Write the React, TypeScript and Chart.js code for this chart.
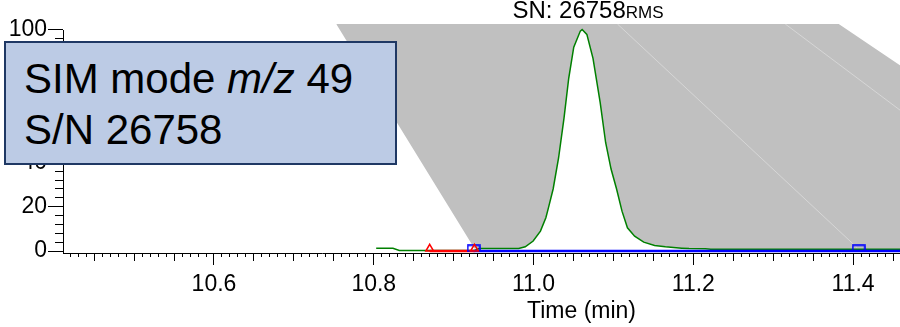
import React, { useEffect, useRef } from "react";
import { Chart, registerables } from "chart.js";

Chart.register(...registerables);

// ---------- axis ranges / ticks ----------
const xRange = [10.411, 11.709];
const yRange = [-0.9, 102.5];
const xMajorStep = 0.2;
const xMidStep = 0.05;
const xMinorStep = 0.01;
const yMajorStep = 20;
const yMinorStep = 4;

// ---------- chromatogram trace (green) ----------
const traceTime = [
  10.803, 10.824, 10.832, 10.926, 10.932, 10.9814, 10.9896, 10.9995, 11.0086, 11.0154,
  11.0186, 11.0245, 11.0313, 11.0381, 11.044, 11.0503, 11.0585, 11.0608, 11.0667, 11.0744,
  11.0834, 11.0902, 11.097, 11.1039, 11.1107, 11.1175, 11.1265, 11.1379, 11.1515, 11.165,
  11.1855, 11.1946, 11.215, 11.2218, 11.8,
];
const traceIntensity = [
  1.2, 1.2, 0.2, 0.2, 1.1, 1.1, 1.9, 4.5, 9, 15,
  19.5, 28, 42, 60, 78, 92, 99.3, 100, 97.8, 87,
  67, 49, 37, 28, 18, 10.5, 6.7, 4.0, 2.5, 1.9,
  1.3, 1.1, 1.0, 0.8, 0.8,
];

// ---------- baselines ----------
const redBaseTime = [10.87, 10.926];
const redBaseLevel = [0, 0];
const blueBaseTime = [10.925, 11.8];
const blueBaseLevel = [0, 0];

// ---------- peak markers ----------
const redMarkTime = [10.87, 10.926];
const redMarkLevel = [1.0, 1.0];
const blueMarkTime = [10.925, 11.407];
const blueMarkLevel = [1.2, 1.2];

// ---------- grey shaded band ----------
const bandLeftTime = [10.753, 10.926];
const bandLeftLevel = [102.5, 1.1];
const bandRightTime = [11.382, 11.8];
const bandRightLevel = [102.5, 0.8];
const seam1Time = [11.105, 11.405];
const seam1Level = [102.5, 1.5];
const seam2Time = [11.315, 11.69];
const seam2Level = [102.5, 1.0];

const FONT = "'Liberation Sans', Arial, Helvetica, sans-serif";

const pts = (xs: number[], ys: number[]) => xs.map((x, i) => ({ x, y: ys[i] }));

export default function App() {
  const canvasRef = useRef<HTMLCanvasElement | null>(null);

  useEffect(() => {
    const canvas = canvasRef.current;
    if (!canvas) return;

    const rectMarker = document.createElement("canvas");
    rectMarker.width = 14;
    rectMarker.height = 8;
    const mctx = rectMarker.getContext("2d");
    if (mctx) {
      mctx.strokeStyle = "#0000ff";
      mctx.lineWidth = 1.6;
      mctx.strokeRect(1, 1, 12, 6);
    }

    const trace = pts(traceTime, traceIntensity);
    const bandLower = [
      ...pts(bandLeftTime, bandLeftLevel),
      ...trace.filter((p) => p.x > bandLeftTime[1]),
    ];
    const bandUpper = [
      { x: bandLeftTime[0], y: bandLeftLevel[0] },
      ...pts(bandRightTime, bandRightLevel),
    ];

    Chart.defaults.font.family = FONT;
    Chart.defaults.color = "#000";

    const xCommon = { type: "linear" as const, min: xRange[0], max: xRange[1] };
    const yCommon = { type: "linear" as const, min: yRange[0], max: yRange[1] };

    const chart = new Chart(canvas, {
      type: "line",
      data: {
        datasets: [
          {
            label: "band",
            data: bandUpper,
            fill: "+1",
            backgroundColor: "#c0c0c0",
            borderColor: "rgba(0,0,0,0)",
            borderWidth: 0,
            pointRadius: 0,
            order: 10,
          },
          {
            label: "bandLower",
            data: bandLower,
            fill: false,
            borderColor: "rgba(0,0,0,0)",
            borderWidth: 0,
            pointRadius: 0,
            order: 9,
          },
          {
            label: "seam1",
            data: pts(seam1Time, seam1Level),
            borderColor: "#d6d6d6",
            borderWidth: 1,
            pointRadius: 0,
            fill: false,
            order: 8,
          },
          {
            label: "seam2",
            data: pts(seam2Time, seam2Level),
            borderColor: "#d6d6d6",
            borderWidth: 1,
            pointRadius: 0,
            fill: false,
            order: 8,
          },
          {
            label: "trace",
            data: trace,
            borderColor: "#008000",
            borderWidth: 1.5,
            pointRadius: 0,
            fill: false,
            order: 5,
          },
          {
            label: "blueBase",
            data: pts(blueBaseTime, blueBaseLevel),
            borderColor: "#0000ff",
            borderWidth: 2.5,
            pointRadius: 0,
            fill: false,
            order: 4,
          },
          {
            label: "redBase",
            data: pts(redBaseTime, redBaseLevel),
            borderColor: "#ff0000",
            borderWidth: 2.5,
            pointRadius: 0,
            fill: false,
            order: 3,
          },
          {
            label: "blueMarks",
            data: pts(blueMarkTime, blueMarkLevel),
            showLine: false,
            pointStyle: rectMarker as any,
            pointRadius: 6,
            order: 2,
            clip: false as any,
          },
          {
            label: "redMarks",
            data: pts(redMarkTime, redMarkLevel),
            showLine: false,
            pointStyle: "triangle",
            pointRadius: 4.5,
            pointBorderColor: "#ff0000",
            pointBackgroundColor: "rgba(0,0,0,0)",
            pointBorderWidth: 1.5,
            order: 1,
            clip: false as any,
          },
        ],
      },
      options: {
        animation: false,
        responsive: false,
        devicePixelRatio: 1,
        events: [],
        layout: { padding: { top: 24, left: 0, right: 0, bottom: 0 } },
        plugins: {
          legend: { display: false },
          tooltip: { enabled: false },
          title: { display: false },
        },
        elements: { line: { tension: 0 } },
        scales: {
          x: {
            ...xCommon,
            position: "bottom",
            afterFit: (s: any) => {
              s.height = 74;
            },
            ticks: {
              stepSize: xMajorStep,
              includeBounds: false,
              autoSkip: false,
              maxRotation: 0,
              padding: 6,
              font: { size: 23 },
              color: "#000",
              callback: (v: any) => Number(v).toFixed(1),
            },
            grid: { drawOnChartArea: false, tickLength: 12, tickColor: "#000", tickWidth: 1 },
            border: { display: true, color: "#000", width: 1 },
            title: {
              display: true,
              text: "Time (min)",
              font: { size: 23 },
              color: "#000",
              padding: { top: 0, bottom: 2 },
            },
          },
          xMid: {
            ...xCommon,
            axis: "x",
            position: { y: yRange[0] },
            ticks: { stepSize: xMidStep, display: false, autoSkip: false, includeBounds: false },
            grid: { drawOnChartArea: false, tickLength: 8, tickColor: "#000", tickWidth: 1 },
            border: { display: false },
          },
          xMinor: {
            ...xCommon,
            axis: "x",
            position: { y: yRange[0] },
            ticks: { stepSize: xMinorStep, display: false, autoSkip: false, includeBounds: false },
            grid: { drawOnChartArea: false, tickLength: 4, tickColor: "#000", tickWidth: 1 },
            border: { display: false },
          },
          xFrame: {
            ...xCommon,
            axis: "x",
            position: { y: yRange[0] },
            ticks: { stepSize: 10, display: false, includeBounds: true },
            grid: {
              drawOnChartArea: true,
              drawTicks: false,
              lineWidth: 1,
              color: (c: any) => (c.index === 0 ? "#000" : "rgba(0,0,0,0)"),
            },
            border: { display: false, dash: [240, 2000], dashOffset: 2234 },
          },
          y: {
            ...yCommon,
            position: "left",
            afterFit: (s: any) => {
              s.width = 63;
            },
            ticks: {
              stepSize: yMajorStep,
              includeBounds: false,
              padding: 1,
              font: { size: 23 },
              color: "#000",
            },
            grid: { drawOnChartArea: false, tickLength: 15, tickColor: "#000", tickWidth: 1 },
            border: { display: false },
          },
          yMinor: {
            ...yCommon,
            axis: "y",
            position: { x: xRange[0] },
            ticks: { stepSize: yMinorStep, display: false, includeBounds: false },
            grid: { drawOnChartArea: false, tickLength: 8, tickColor: "#000", tickWidth: 1 },
            border: { display: false },
          },
        } as any,
      },
    });

    return () => chart.destroy();
  }, []);

  return (
    <div
      style={{
        position: "fixed",
        left: 0,
        top: 0,
        width: 900,
        height: 327,
        overflow: "hidden",
        background: "#fff",
      }}
    >
      <canvas
        ref={canvasRef}
        width={1107}
        height={327}
        style={{ position: "absolute", left: 0, top: 0, width: 1107, height: 327 }}
      />
      <div
        style={{
          position: "absolute",
          left: 588,
          top: -4,
          transform: "translateX(-50%)",
          font: `24px ${FONT}`,
          whiteSpace: "nowrap",
          color: "#000",
        }}
      >
        SN: 26758<span style={{ fontSize: 17 }}>RMS</span>
      </div>
      <div
        style={{
          position: "absolute",
          left: 4,
          top: 41,
          width: 393,
          height: 124,
          boxSizing: "border-box",
          border: "2px solid #1f3864",
          background: "#bccbe5",
          padding: "10px 0 0 18px",
          font: `42px/51px ${FONT}`,
          color: "#000",
          whiteSpace: "nowrap",
        }}
      >
        <div>
          SIM mode <i>m/z</i> 49
        </div>
        <div>S/N 26758</div>
      </div>
    </div>
  );
}
